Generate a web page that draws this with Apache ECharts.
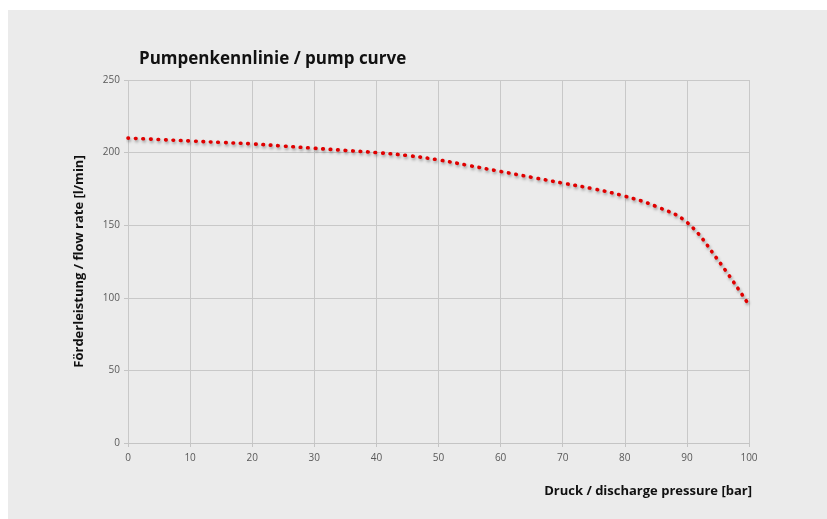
<!DOCTYPE html>
<html>
<head>
<meta charset="utf-8">
<script src="https://cdn.jsdelivr.net/npm/echarts@6/dist/echarts.min.js"></script>
<style>
html,body{margin:0;padding:0;background:#ffffff;width:827px;height:519px;overflow:hidden;}
#chart{position:absolute;left:8px;top:10px;width:819px;height:509px;}
</style>
</head>
<body>
<div id="chart"></div>
<script>
const pressure = [0, 5, 10, 15, 20, 25, 30, 35, 40, 45, 50, 55, 60, 65, 70, 75, 80, 85, 90, 95, 100];
const flowRate = [210, 209, 208, 207, 206, 204.5, 203, 201.5, 200, 198, 195, 191, 187, 183, 179, 175, 170, 163, 152, 126, 95];
const titleText = 'Pumpenkennlinie / pump curve';
const xName = 'Druck / discharge pressure [bar]';
const yName = 'Förderleistung / flow rate [l/min]';

const font = '"Open Sans", sans-serif';
const chart = echarts.init(document.getElementById('chart'));
chart.setOption({
  backgroundColor: '#ebebeb',
  animation: false,
  title: {
    text: titleText,
    left: 126,
    top: 36,
    textStyle: {fontFamily: font, fontSize: 17, fontWeight: 'bold', color: '#111'}
  },
  grid: {left: 120, right: 78, top: 70, bottom: 76},
  xAxis: {
    type: 'value', min: 0, max: 100, interval: 10,
    name: xName, nameLocation: 'end',
    nameGap: 0,
    nameTextStyle: {fontFamily: font, fontSize: 13, fontWeight: 'bold', color: '#111',
      align: 'right', verticalAlign: 'top', padding: [42, -3, 0, 0]},
    axisLine: {show: true, lineStyle: {color: '#c4c4c4', width: 1}},
    axisTick: {show: true, length: 4, lineStyle: {color: '#c4c4c4'}},
    axisLabel: {fontFamily: font, fontSize: 10, color: '#595959', margin: 10},
    splitLine: {show: true, lineStyle: {color: '#c8c8c8', width: 1}}
  },
  yAxis: {
    type: 'value', min: 0, max: 250, interval: 50,
    name: yName, nameLocation: 'middle', nameGap: 42,
    nameTextStyle: {fontFamily: font, fontSize: 13, fontWeight: 'bold', color: '#111'},
    axisLine: {show: false},
    axisTick: {show: true, length: 4, lineStyle: {color: '#c4c4c4'}},
    axisLabel: {fontFamily: font, fontSize: 10, color: '#595959', margin: 8},
    splitLine: {show: true, lineStyle: {color: '#c8c8c8', width: 1}}
  },
  series: [{
    type: 'line',
    data: pressure.map((p, i) => [p, flowRate[i]]),
    smooth: 0.4,
    showSymbol: false,
    lineStyle: {
      color: '#e00000', width: 3.6, type: [0.6, 6.9], cap: 'round',
      shadowColor: 'rgba(0,0,0,0.35)', shadowBlur: 3, shadowOffsetX: 1, shadowOffsetY: 2
    }
  }]
});
</script>
</body>
</html>
